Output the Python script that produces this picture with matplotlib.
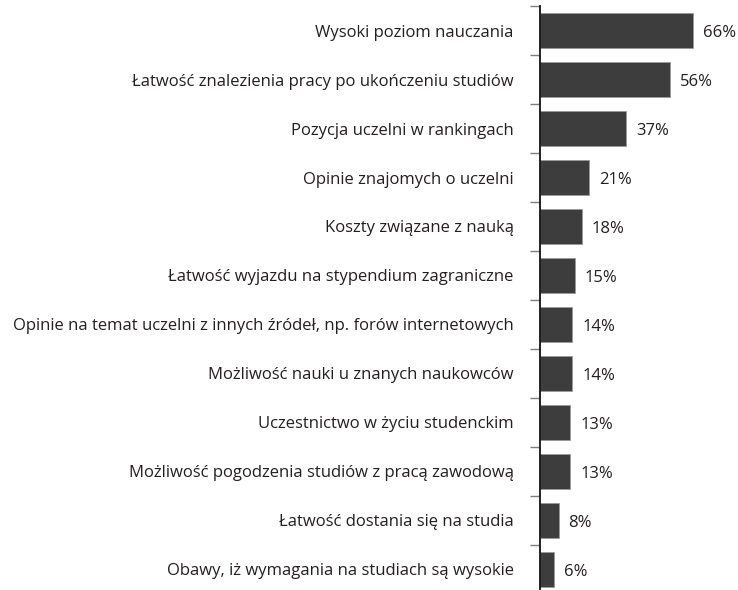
import matplotlib
matplotlib.use("Agg")
import matplotlib.pyplot as plt
import matplotlib.transforms as mtransforms
import numpy as np

categories = [
    "Wysoki poziom nauczania",
    "Łatwość znalezienia pracy po ukończeniu studiów",
    "Pozycja uczelni w rankingach",
    "Opinie znajomych o uczelni",
    "Koszty związane z nauką",
    "Łatwość wyjazdu na stypendium zagraniczne",
    "Opinie na temat uczelni z innych źródeł, np. forów internetowych",
    "Możliwość nauki u znanych naukowców",
    "Uczestnictwo w życiu studenckim",
    "Możliwość pogodzenia studiów z pracą zawodową",
    "Łatwość dostania się na studia",
    "Obawy, iż wymagania na studiach są wysokie",
]
values = [66, 56, 37, 21, 18, 15, 14, 14, 13, 13, 8, 6]

BAR_COLOR = "#3d3d3d"
TEXT_COLOR = "#231f20"
DPI = 100
W, H = 738, 590

plt.rcParams["font.family"] = ["Open Sans", "DejaVu Sans"]

fig = plt.figure(figsize=(W / DPI, H / DPI), dpi=DPI, facecolor="white")
# axis spine from y=6 px (top) down past the bottom edge
top_px, bot_px = 6.3, 593.5
left_px = 540
ax = fig.add_axes([left_px / W, 1 - bot_px / H, (W - left_px) / W, (bot_px - top_px) / H])

n = len(categories)
y = np.arange(n)
ax.barh(y, values, height=0.715, color=BAR_COLOR, edgecolor="#9a9a9a", linewidth=0.6)
ax.set_ylim(n - 0.5, -0.5)
ax.set_xlim(0, (W - left_px) / 2.32)

# text in the reference sits a few pixels below the bar centre
shift = mtransforms.ScaledTranslation(0, -2.5 / DPI, fig.dpi_scale_trans)

for yi, v in zip(y, values):
    ax.text(v + 10 / 2.32, yi, f"{v}%", va="center", ha="left", fontsize=12,
            color=TEXT_COLOR, transform=ax.transData + shift)

ax.set_yticks(y)
ax.set_yticklabels(categories, fontsize=12, color=TEXT_COLOR)
for lbl in ax.get_yticklabels():
    lbl.set_transform(lbl.get_transform() + shift)
ax.tick_params(axis="y", which="major", length=0, pad=19)
ax.set_yticks(np.arange(-0.5, n, 1.0), minor=True)
ax.tick_params(axis="y", which="minor", length=7, width=1, color="#7f7f7f", direction="out")

ax.set_xticks([])
for s in ["top", "right", "bottom"]:
    ax.spines[s].set_visible(False)
ax.spines["left"].set_color("#111111")
ax.spines["left"].set_linewidth(1.3)

plt.savefig("out.png", dpi=DPI, facecolor="white")
